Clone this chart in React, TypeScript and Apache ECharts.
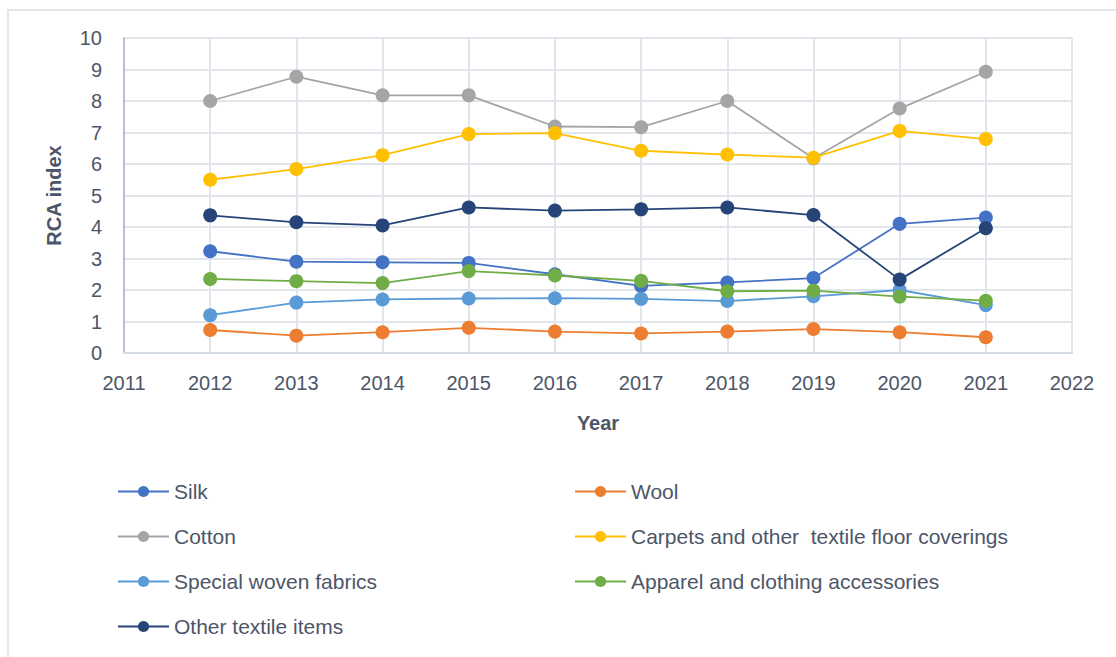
import React, { useEffect, useRef } from "react";
import * as echarts from "echarts";

const years = [2012, 2013, 2014, 2015, 2016, 2017, 2018, 2019, 2020, 2021];
const silk = [3.23, 2.9, 2.88, 2.86, 2.5, 2.13, 2.24, 2.38, 4.1, 4.3];
const wool = [0.73, 0.55, 0.66, 0.8, 0.68, 0.62, 0.68, 0.76, 0.66, 0.5];
const cotton = [8.0, 8.77, 8.18, 8.18, 7.19, 7.17, 8.0, 6.18, 7.76, 8.93];
const carpets = [5.5, 5.84, 6.28, 6.95, 6.98, 6.42, 6.3, 6.2, 7.05, 6.79];
const specialWoven = [1.2, 1.6, 1.7, 1.73, 1.74, 1.72, 1.65, 1.8, 2.0, 1.52];
const apparel = [2.35, 2.28, 2.22, 2.6, 2.46, 2.29, 1.96, 1.98, 1.79, 1.66];
const otherTextile = [4.37, 4.15, 4.05, 4.62, 4.52, 4.56, 4.62, 4.38, 2.33, 3.96];

const seriesNames = [
  "Silk",
  "Wool",
  "Cotton",
  "Carpets and other  textile floor coverings",
  "Special woven fabrics",
  "Apparel and clothing accessories",
  "Other textile items",
];
const seriesData = [silk, wool, cotton, carpets, specialWoven, apparel, otherTextile];
const colors = ["#4472C4", "#ED7D31", "#A5A5A5", "#FFC000", "#5B9BD5", "#70AD47", "#264478"];

const xMin = 2011;
const xMax = 2022;
const yMin = 0;
const yMax = 10;

const FONT = "'Liberation Sans', Arial, sans-serif";
const TEXT = "#4d5668";

export default function App() {
  const ref = useRef<HTMLDivElement>(null);
  useEffect(() => {
    document.body.style.margin = "0";
    const chart = echarts.init(ref.current!, null, { renderer: "svg" });
    const legendText = { fontFamily: FONT, fontSize: 21, color: TEXT, lineHeight: 21 };
    chart.setOption({
      animation: false,
      color: colors,
      textStyle: { fontFamily: FONT },
      graphic: [
        {
          type: "rect",
          shape: { x: 8, y: 10, width: 1300, height: 800 },
          style: { fill: "none", stroke: "#e3e6ec", lineWidth: 2 },
          silent: true,
          z: -10,
        },
      ],
      grid: { left: 124, right: 44, top: 38, bottom: 304, containLabel: false },
      xAxis: {
        type: "value",
        min: xMin,
        max: xMax,
        interval: 1,
        name: "Year",
        nameLocation: "middle",
        nameGap: 60,
        nameTextStyle: { fontFamily: FONT, fontSize: 20, fontWeight: "bold", color: TEXT },
        axisLine: { show: true, lineStyle: { color: "#d5dbe5", width: 2 } },
        axisTick: { show: false },
        axisLabel: {
          fontFamily: FONT,
          fontSize: 20,
          color: TEXT,
          margin: 20,
          formatter: (v: number) => String(v),
        },
        splitLine: { show: true, lineStyle: { color: "#e1e5ec", width: 2 } },
      },
      yAxis: {
        type: "value",
        min: yMin,
        max: yMax,
        interval: 1,
        name: "RCA index",
        nameLocation: "middle",
        nameGap: 60,
        nameTextStyle: { fontFamily: FONT, fontSize: 20, fontWeight: "bold", color: TEXT },
        axisLine: { show: true, lineStyle: { color: "#b7c1d1", width: 2 } },
        axisTick: { show: false },
        axisLabel: { fontFamily: FONT, fontSize: 20, color: TEXT, margin: 22 },
        splitLine: { show: true, lineStyle: { color: "#e1e5ec", width: 2 } },
      },
      legend: [
        {
          orient: "vertical",
          left: 117,
          top: 481,
          padding: 0,
          itemWidth: 51,
          itemHeight: 14,
          itemGap: 24,
          textStyle: legendText,
          data: [seriesNames[0], seriesNames[2], seriesNames[4], seriesNames[6]],
        },
        {
          orient: "vertical",
          left: 574,
          top: 481,
          padding: 0,
          itemWidth: 51,
          itemHeight: 14,
          itemGap: 24,
          textStyle: legendText,
          data: [seriesNames[1], seriesNames[3], seriesNames[5]],
        },
      ],
      series: seriesNames.map((name, i) => ({
        name,
        type: "line",
        data: years.map((y, j) => [y, seriesData[i][j]]),
        symbol: "circle",
        symbolSize: 14,
        lineStyle: { width: 1.8, color: colors[i] },
        itemStyle: { color: colors[i] },
      })),
    });
    return () => chart.dispose();
  }, []);
  return <div ref={ref} style={{ width: 1116, height: 657 }} />;
}
